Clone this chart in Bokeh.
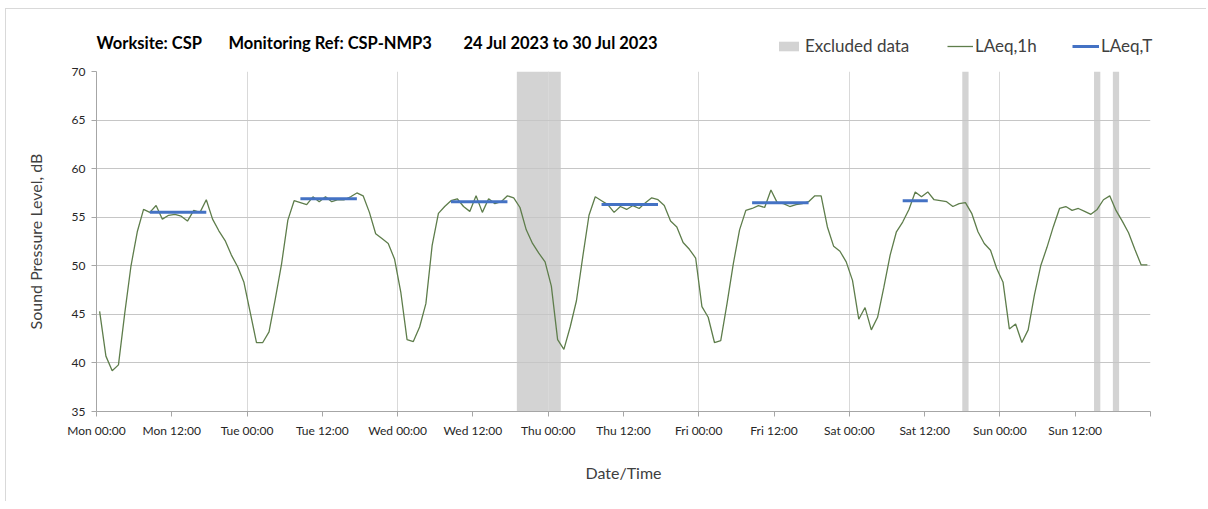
from bokeh.plotting import figure
from bokeh.layouts import column
from bokeh.models import Range1d, FixedTicker, Label, Legend, LegendItem, ColumnDataSource
from bokeh.embed import file_html
from bokeh.resources import INLINE

# ---------------- data ----------------
tick_hours = list(range(0, 169, 12))
tick_labels = ["Mon 00:00", "Mon 12:00", "Tue 00:00", "Tue 12:00", "Wed 00:00", "Wed 12:00",
               "Thu 00:00", "Thu 12:00", "Fri 00:00", "Fri 12:00", "Sat 00:00", "Sat 12:00",
               "Sun 00:00", "Sun 12:00", ""]
day_grid_hours = [24, 48, 72, 96, 120, 144, 168]
y_ticks = [35, 40, 45, 50, 55, 60, 65, 70]

title_parts = ["Worksite: CSP", "Monitoring Ref: CSP-NMP3", "24 Jul 2023 to 30 Jul 2023"]

# hourly LAeq,1h values (hour 0 = Mon 00:00-01:00)
laeq_1h = [
    # Mon
    45.3, 40.7, 39.2, 39.8, 45.1, 50.0, 53.5, 55.8, 55.5, 56.2, 54.8, 55.2,
    55.3, 55.1, 54.6, 55.7, 55.5, 56.8, 54.8, 53.6, 52.6, 51.1, 49.9, 48.3,
    # Tue
    45.2, 42.1, 42.1, 43.2, 46.6, 50.2, 54.7, 56.7, 56.5, 56.3, 57.1, 56.6,
    57.1, 56.6, 56.8, 56.8, 57.1, 57.5, 57.2, 55.5, 53.3, 52.8, 52.3, 50.7,
    # Wed
    47.3, 42.4, 42.2, 43.7, 46.1, 52.1, 55.4, 56.1, 56.7, 56.9, 56.1, 55.6,
    57.2, 55.5, 56.9, 56.4, 56.6, 57.2, 57.0, 56.0, 53.7, 52.3, 51.3, 50.4,
    # Thu
    47.9, 42.4, 41.4, 43.7, 46.4, 50.9, 55.2, 57.1, 56.7, 56.3, 55.5, 56.1,
    55.8, 56.2, 55.9, 56.5, 57.0, 56.8, 56.2, 54.6, 54.0, 52.4, 51.7, 50.8,
    # Fri
    45.8, 44.7, 42.1, 42.3, 46.1, 50.2, 53.7, 55.7, 55.9, 56.2, 56.0, 57.8,
    56.5, 56.4, 56.1, 56.3, 56.4, 56.6, 57.2, 57.2, 54.0, 52.0, 51.5, 50.4,
    # Sat
    48.5, 44.5, 45.7, 43.4, 44.7, 47.8, 51.1, 53.5, 54.5, 55.8, 57.6, 57.1,
    57.6, 56.8, 56.7, 56.6, 56.1, 56.4, 56.5, 55.4, 53.5, 52.3, 51.6, 49.7,
    # Sun
    48.3, 43.5, 44.0, 42.1, 43.4, 47.0, 50.0, 51.9, 54.0, 55.9, 56.1, 55.7,
    55.9, 55.6, 55.3, 55.8, 56.8, 57.2, 55.7, 54.6, 53.4, 51.7, 50.1, 50.1,
]

# hours flagged as excluded data
excluded_hours = [67, 68, 69, 70, 71, 72, 73, 138, 159, 162]

# LAeq,T assessment periods (start / end hour) and levels
period_start = [8, 32, 56, 80, 104, 128]
period_end = [18, 42, 66, 90, 114, 133]
laeq_t = [55.5, 56.9, 56.6, 56.3, 56.5, 56.7]

# ---------------- style ----------------
FONT = "Lato"
GREEN = "#5E7D4B"
BLUE = "#4472C4"
GREY_BAND = "#D3D3D3"
TEXT = "#404040"
Y_MIN, Y_MAX = 35, 70

FIG_W = 1200
TOP_H = 52

# group consecutive excluded hours into bands
bands = []
for h in excluded_hours:
    if bands and bands[-1][1] == h:
        bands[-1][1] = h + 1
    else:
        bands.append([h, h + 1])

# ---------------- main chart ----------------
p = figure(frame_width=1054, frame_height=340,
           min_border_left=90, min_border_top=10, min_border_right=FIG_W - 90 - 1054,
           min_border_bottom=90,
           x_range=Range1d(0, 168), y_range=Range1d(Y_MIN, Y_MAX),
           output_backend="svg", toolbar_location=None,
           background_fill_color="white", border_fill_color="white")
p.outline_line_color = None
p.frame_align = False

ex_src = ColumnDataSource(dict(left=[b[0] for b in bands], right=[b[1] for b in bands],
                               top=[Y_MAX] * len(bands), bottom=[Y_MIN] * len(bands)))
p.quad(left="left", right="right", top="top", bottom="bottom", source=ex_src,
       fill_color=GREY_BAND, line_color=None, level="image")

l_src = ColumnDataSource(dict(x=[h + 0.5 for h in range(len(laeq_1h))], y=laeq_1h))
p.line("x", "y", source=l_src, line_color=GREEN, line_width=1.3)

t_src = ColumnDataSource(dict(x0=[s + 0.5 for s in period_start],
                              x1=[e - 0.5 for e in period_end], y=laeq_t))
p.segment(x0="x0", y0="y", x1="x1", y1="y", source=t_src, line_color=BLUE, line_width=3)

p.xaxis.ticker = FixedTicker(ticks=tick_hours)
p.xaxis.major_label_overrides = {h: lab for h, lab in zip(tick_hours, tick_labels)}
p.yaxis.ticker = FixedTicker(ticks=y_ticks)
for ax in (p.xaxis, p.yaxis):
    ax.axis_line_color = "#A6A6A6"
    ax.major_tick_line_color = "#A6A6A6"
    ax.minor_tick_line_color = None
    ax.major_tick_in = 0
    ax.major_tick_out = 5
    ax.major_label_text_font = FONT
    ax.major_label_text_font_size = "12px"
    ax.major_label_text_color = "#262626"
    ax.axis_label_text_font = FONT
    ax.axis_label_text_font_size = "16px"
    ax.axis_label_text_font_style = "normal"
    ax.axis_label_text_color = TEXT
p.xaxis.axis_label = "Date/Time"
p.yaxis.axis_label = "Sound Pressure Level, dB"
p.xaxis.major_label_standoff = 6
p.yaxis.major_label_standoff = 6
p.xaxis.axis_label_standoff = 22
p.yaxis.axis_label_standoff = 24

p.xgrid.ticker = FixedTicker(ticks=day_grid_hours)
p.xgrid.grid_line_color = "#D9D9D9"
p.ygrid.grid_line_color = "#C6C6C6"

# ---------------- header (title + legend) ----------------
top = figure(width=FIG_W, height=TOP_H, min_border=0,
             x_range=Range1d(0, FIG_W), y_range=Range1d(TOP_H, 0),
             x_axis_type=None, y_axis_type=None,
             output_backend="svg", toolbar_location=None,
             background_fill_color="white", border_fill_color="white")
top.outline_line_color = None
top.frame_align = False
top.xgrid.visible = False
top.ygrid.visible = False

for txt, x in zip(title_parts, [90, 222, 457]):
    top.add_layout(Label(x=x, y=33, text=txt, text_font=FONT, text_font_size="16.5px",
                         text_font_style="bold", text_color="black",
                         text_baseline="middle", text_align="left"))

# legend sample glyphs (kept outside the visible header range)
lg_ex = top.quad(left=[-20], right=[-10], top=[-20], bottom=[-10],
                 fill_color=GREY_BAND, line_color=None)
lg_line = top.line(x=[-20, -10], y=[-20, -20], line_color=GREEN, line_width=1.3)
lg_t = top.line(x=[-20, -10], y=[-20, -20], line_color=BLUE, line_width=3)

def add_legend(label, renderer, x, gw, gh, standoff):
    lg = Legend(items=[LegendItem(label=label, renderers=[renderer])],
                location=(x, 5), orientation="horizontal",
                glyph_width=gw, glyph_height=gh, label_standoff=standoff,
                label_text_font=FONT, label_text_font_size="17px", label_text_color=TEXT,
                label_height=20, padding=0, margin=0, spacing=0,
                border_line_color=None, background_fill_alpha=0)
    top.add_layout(lg, "center")

add_legend("Excluded data", lg_ex, 770, 25, 12, 4)
add_legend("LAeq,1h", lg_line, 941, 26, 20, 2)
add_legend("LAeq,T", lg_t, 1066, 27, 20, 2)

layout = column(top, p, spacing=0, margin=(8, 0, 0, 5),
                styles={"border-left": "1px solid #D9D9D9", "border-top": "1px solid #D9D9D9"})

open("out.html", "w").write(file_html(layout, INLINE))
